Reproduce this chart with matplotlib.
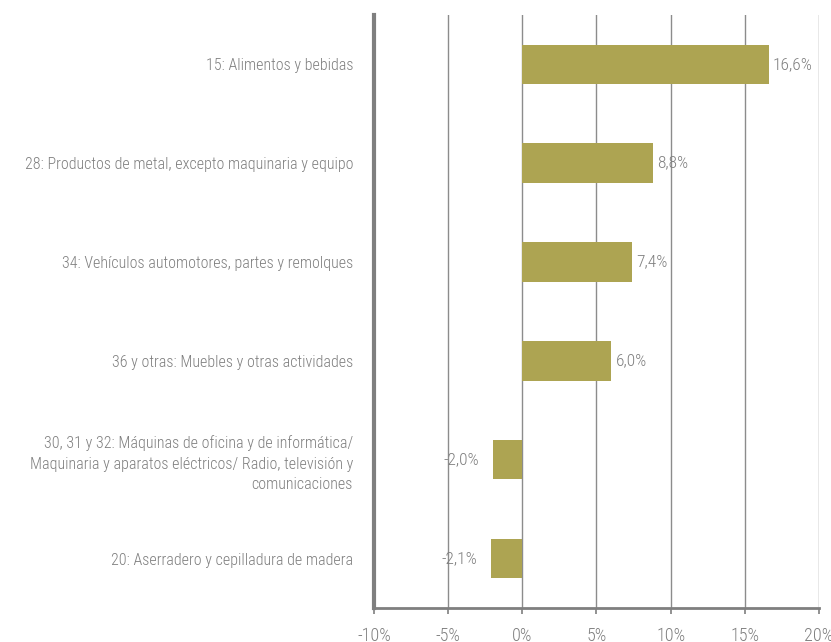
import matplotlib
matplotlib.use("Agg")
import matplotlib.pyplot as plt
import numpy as np

# data
categories = [
    "15: Alimentos y bebidas",
    "28: Productos de metal, excepto maquinaria y equipo",
    "34: Vehículos automotores, partes y remolques",
    "36 y otras: Muebles y otras actividades",
    "30, 31 y 32: Máquinas de oficina y de informática/\nMaquinaria y aparatos eléctricos/ Radio, televisión y\ncomunicaciones",
    "20: Aserradero y cepilladura de madera",
]
values = [16.6, 8.8, 7.4, 6.0, -2.0, -2.1]
xticks = [-10, -5, 0, 5, 10, 15, 20]

plt.rcParams["font.family"] = ["Roboto Condensed", "DejaVu Sans"]
plt.rcParams["font.weight"] = "light"

bar_color = "#ada452"
text_color = "#7f7f7f"

fig = plt.figure(figsize=(8.31, 6.42), dpi=100)
ax = fig.add_axes([0.450, 0.053, 0.5355, 0.9237])

y = np.arange(len(categories))
ax.barh(y, values, height=0.4, color=bar_color, zorder=3)
ax.set_ylim(len(categories) - 0.5, -0.5)
ax.set_xlim(-10, 20)

ax.set_yticks(y)
ax.set_yticklabels(categories, fontsize=11.5, color=text_color, ha="right",
                   linespacing=1.45)
ax.tick_params(axis="y", length=0, pad=15)

ax.set_xticks(xticks)
ax.set_xticklabels([f"{t}%" for t in xticks], fontsize=13, color=text_color)
ax.tick_params(axis="x", length=4, width=1.2, color=text_color, pad=10)

ax.grid(axis="x", color="#8c8c8c", linewidth=1.0, zorder=0)
for s in ["top", "right"]:
    ax.spines[s].set_visible(False)
ax.spines["left"].set_color(text_color)
ax.spines["left"].set_linewidth(3)
ax.spines["bottom"].set_color(text_color)
ax.spines["bottom"].set_linewidth(2)

for yi, v in zip(y, values):
    lab = f"{v:.1f}%".replace(".", ",")
    if v >= 0:
        ax.annotate(lab, (v, yi), xytext=(3, 0), textcoords="offset points",
                    ha="left", va="center", fontsize=12.5, color=text_color)
    else:
        ax.annotate(lab, (v, yi), xytext=(-10, 0), textcoords="offset points",
                    ha="right", va="center", fontsize=12.5, color=text_color)

fig.savefig("out.png", dpi=100)
